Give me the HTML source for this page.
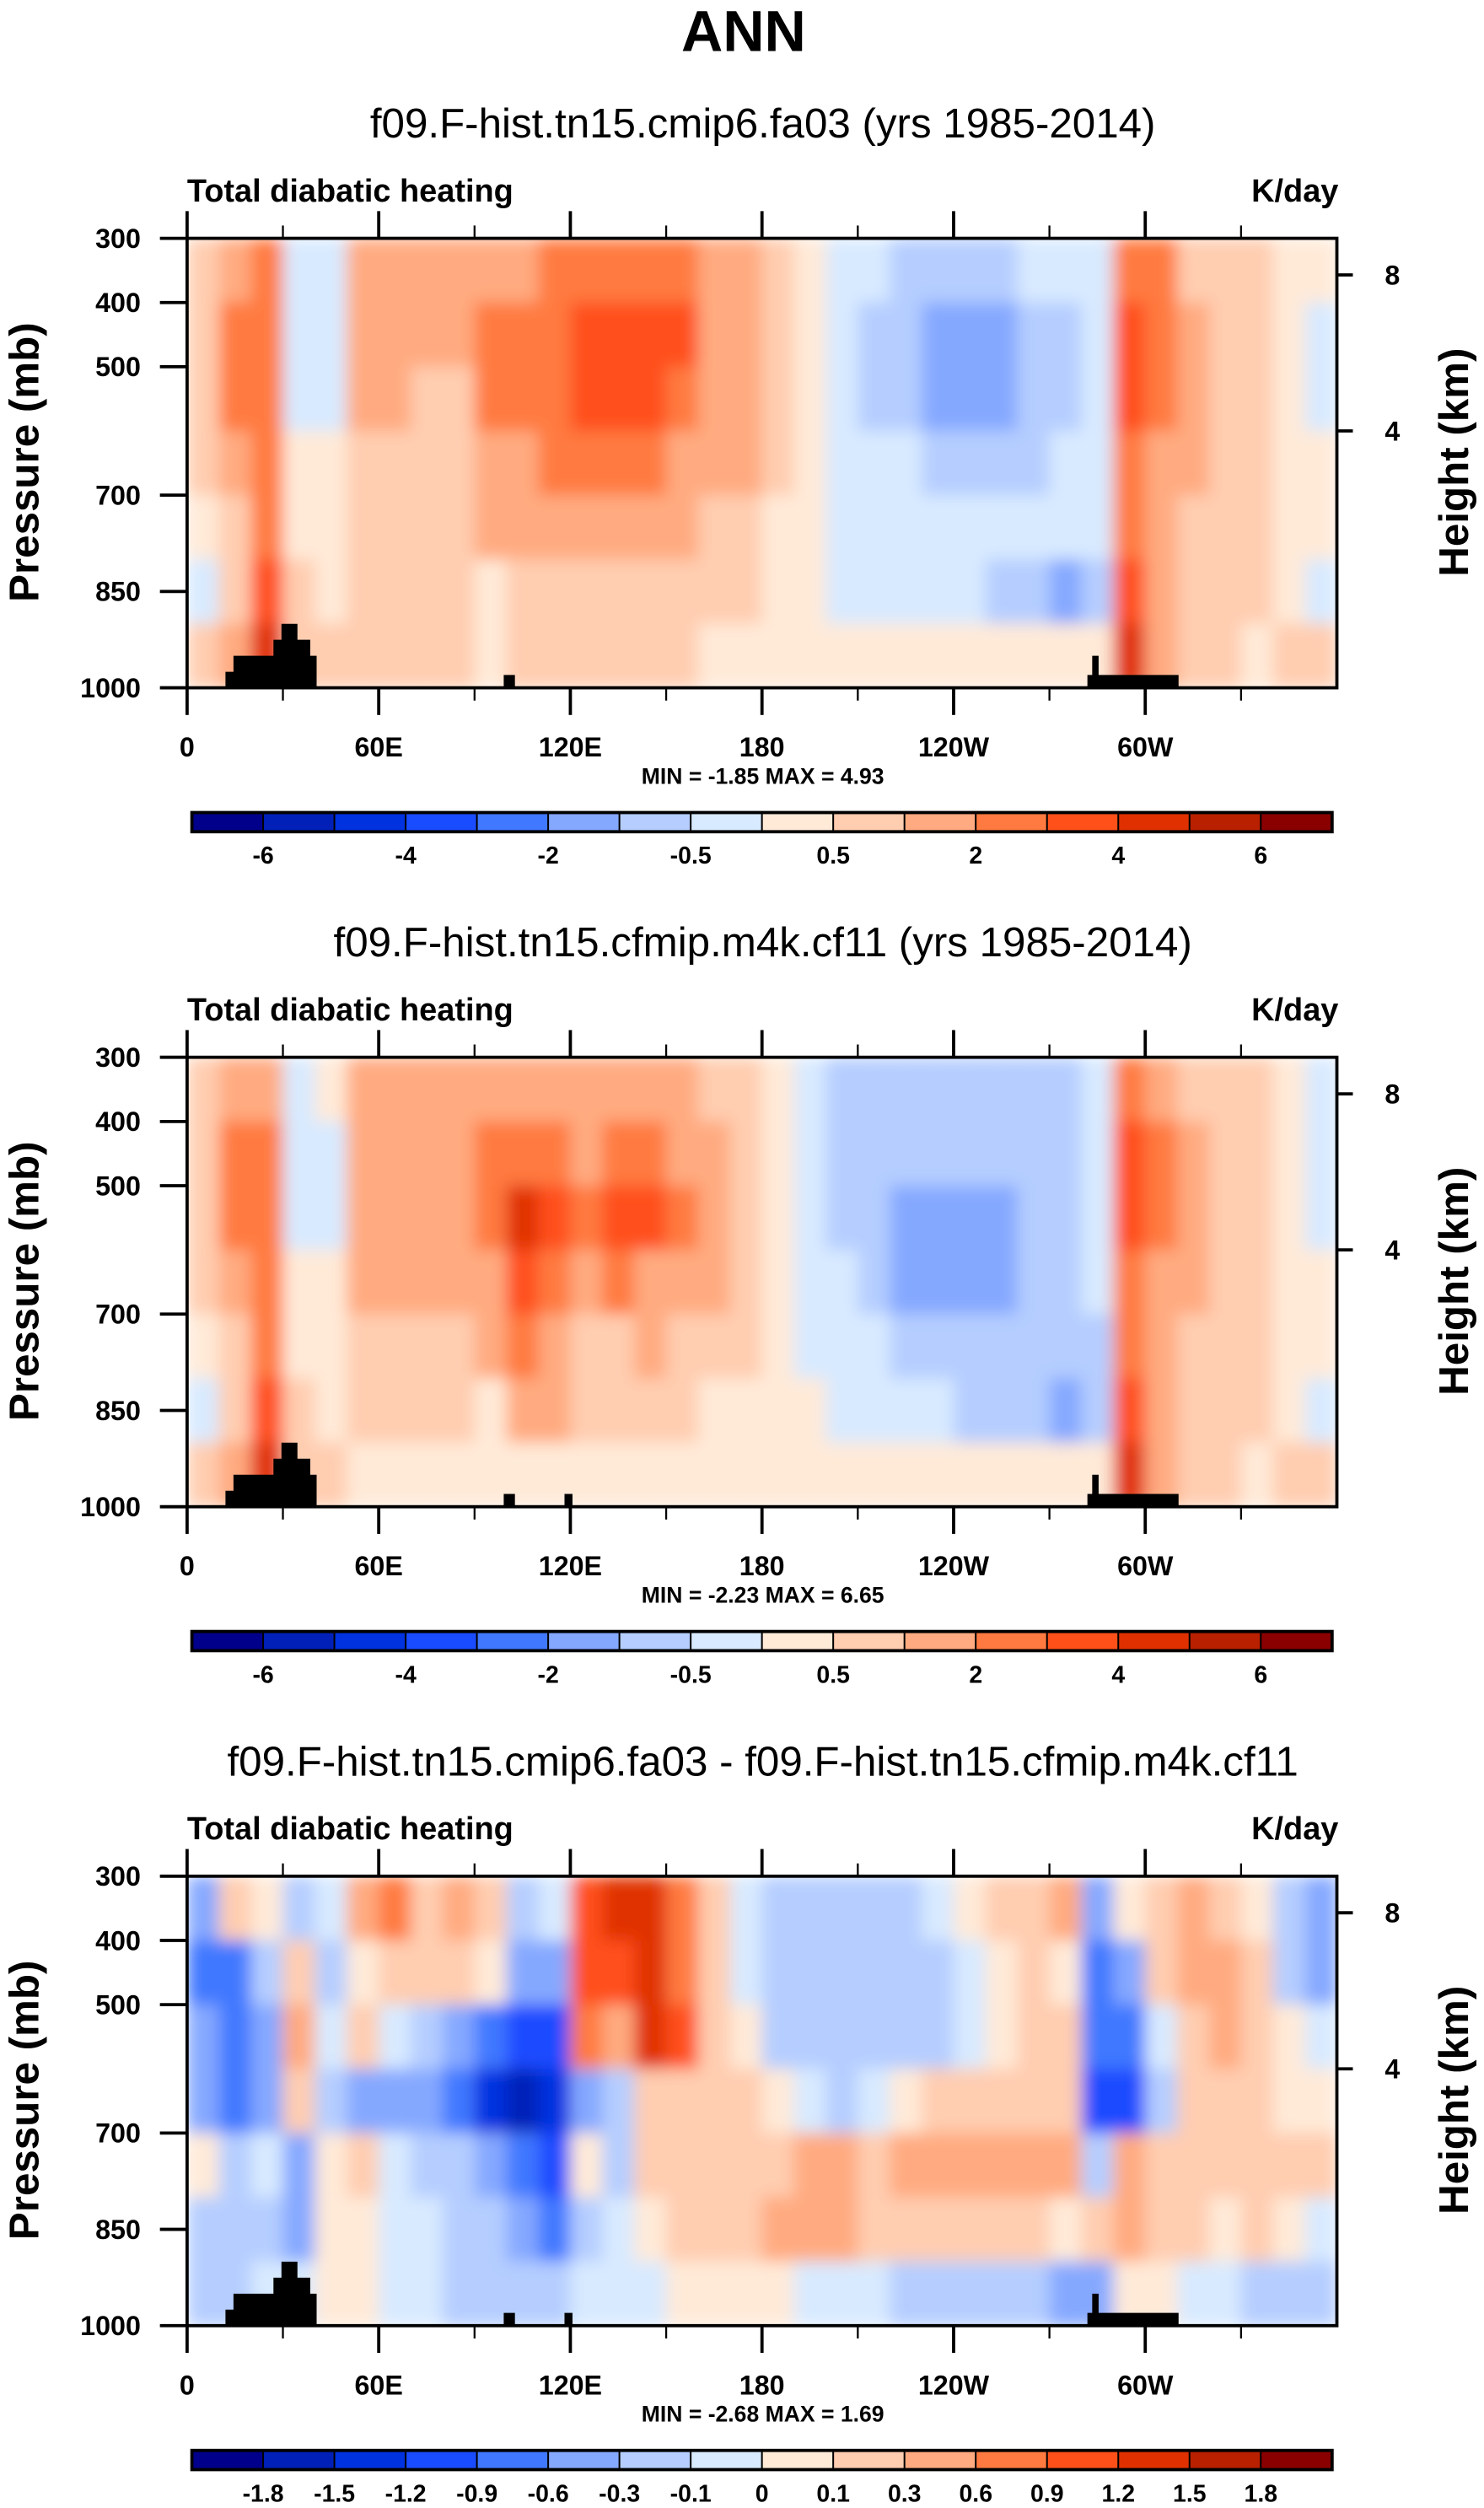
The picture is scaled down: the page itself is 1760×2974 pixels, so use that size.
<!DOCTYPE html>
<html><head><meta charset="utf-8"><style>
html,body{margin:0;padding:0;background:#fff}
svg{display:block}
text{font-family:"Liberation Sans",Arial,sans-serif;fill:#000}
</style></head><body>
<svg id="fig" xmlns="http://www.w3.org/2000/svg" width="1760" height="2974" viewBox="0 0 928 1568" preserveAspectRatio="none">
<defs><filter id="bl" x="0" y="0" width="1" height="1"><feGaussianBlur stdDeviation="5" edgeMode="duplicate"/></filter></defs>
<text x="465" y="32" font-size="36" font-weight="bold" text-anchor="middle">ANN</text>
</svg>
<script>
const colors=["#00008a","#0020b8","#0032e0","#1a4cff","#4078ff","#85a8ff","#b5ceff","#d8eaff","#ffead8","#ffcdb0","#ffaa80","#ff7a40","#ff501a","#e03000","#b82000","#8a0000"];
const levelsAbs=[-6,-5,-4,-3,-2,-1,-0.5,0,0.5,1,2,3,4,5,6];
const levelsDiff=[-1.8,-1.5,-1.2,-0.9,-0.6,-0.3,-0.1,0,0.1,0.3,0.6,0.9,1.2,1.5,1.8];
const labelsAbs=["-6","-4","-2","-0.5","0.5","2","4","6"];
const labelsDiff=["-1.8","-1.5","-1.2","-0.9","-0.6","-0.3","-0.1","0","0.1","0.3","0.6","0.9","1.2","1.5","1.8"];
const lonCenters=[5,15,25,35,45,55,65,75,85,95,105,115,125,135,145,155,165,175,185,195,205,215,225,235,245,255,265,275,285,295,305,315,325,335,345,355];
const presBands=[[300,400],[400,500],[500,600],[600,700],[700,800],[800,900],[900,1000]];
const xTickLons=[0,60,120,180,240,300];
const xTickLabels=["0","60E","120E","180","120W","60W"];
const pTicks=[300,400,500,700,850,1000];
const hTicks=[8,4];
const hTickPres=[357,600];
const field1=[
[0.7,1.5,2.5,-0.3,-0.2,1.5,1.5,1.2,1.2,1.5,2.0,2.5,2.5,2.5,2.5,2.5,2.0,1.5,1.0,0.3,-0.4,-0.5,-0.6,-0.7,-0.7,-0.6,-0.5,-0.5,-0.3,2.5,2.5,1.0,0.8,0.6,0.5,0.3],
[0.8,2.5,2.5,-0.5,-0.3,1.5,1.5,1.2,1.2,2.5,2.5,3.0,3.5,3.5,3.5,3.5,2.0,1.5,1.0,0.2,-0.5,-0.6,-0.8,-1.2,-1.5,-1.2,-0.8,-0.6,-0.4,3.5,3.0,1.5,1.0,0.6,0.3,-0.2],
[0.8,2.5,2.5,-0.3,-0.2,1.5,1.2,1.0,1.0,2.5,2.5,3.0,3.5,3.5,3.5,2.5,2.0,1.5,0.8,0.1,-0.5,-0.6,-0.8,-1.2,-1.5,-1.2,-0.8,-0.6,-0.3,3.5,2.5,1.5,1.0,0.6,0.3,-0.2],
[0.6,1.5,2.5,0.3,0.3,1.0,1.0,0.8,0.8,1.5,2.0,2.5,2.5,2.5,2.5,1.5,1.5,1.2,0.6,0.1,-0.3,-0.4,-0.5,-0.6,-0.7,-0.6,-0.6,-0.5,-0.3,2.5,2.0,1.2,0.8,0.6,0.3,0.2],
[0.4,1.0,2.5,0.5,0.5,0.8,0.8,0.6,0.6,1.2,1.5,1.2,1.2,1.2,1.2,1.2,1.0,1.0,0.5,0.1,-0.2,-0.3,-0.3,-0.4,-0.5,-0.5,-0.5,-0.5,-0.5,2.5,1.5,1.0,0.8,0.6,0.4,0.1],
[-0.3,0.8,3.5,0.7,0.5,0.6,0.6,0.6,0.6,0.3,1.0,0.8,0.8,0.8,0.8,0.8,0.6,0.6,0.4,0.1,-0.2,-0.2,-0.3,-0.3,-0.5,-0.7,-1.0,-1.5,-1.0,3.5,1.5,1.0,0.8,0.6,0.5,-0.5],
[1.0,1.5,4.5,1.0,0.6,0.6,0.6,0.6,0.6,0.2,0.6,0.6,0.6,0.6,0.6,0.6,0.5,0.4,0.3,0.2,0.1,0.1,0.1,0.1,0.1,0.1,0.1,0.2,0.5,4.5,1.5,0.8,0.6,0.5,0.6,0.6]];
const field2=[
[0.6,1.5,2.0,-0.3,0.2,1.2,1.2,1.2,1.2,1.2,2.0,2.0,1.5,1.5,1.5,1.2,1.0,0.8,0.5,-0.1,-0.6,-0.6,-0.6,-0.6,-0.6,-0.6,-0.6,-0.6,-0.3,2.5,2.0,1.0,0.8,0.6,0.3,-0.3],
[0.8,2.5,2.5,-0.5,-0.2,1.5,1.5,1.5,1.5,2.5,3.0,3.0,2.0,2.5,2.5,2.0,1.5,1.0,0.5,-0.1,-0.6,-0.8,-0.8,-1.0,-1.0,-0.8,-0.7,-0.6,-0.3,3.5,2.5,1.5,1.0,0.6,0.3,-0.5],
[0.8,2.5,2.5,-0.3,-0.1,1.5,1.5,1.5,1.5,2.5,4.5,3.5,2.5,3.5,3.5,2.5,1.5,1.0,0.5,-0.1,-0.6,-0.8,-1.5,-1.5,-1.5,-1.2,-0.8,-0.6,-0.3,3.5,2.5,1.5,1.0,0.6,0.3,-0.3],
[0.6,1.5,2.5,0.3,0.3,1.2,1.2,1.2,1.2,1.5,3.5,3.0,1.5,2.5,2.0,1.5,1.2,1.0,0.5,-0.1,-0.5,-0.8,-1.5,-1.5,-1.5,-1.2,-0.8,-0.6,-0.3,2.5,2.0,1.2,0.8,0.6,0.3,0.2],
[0.4,1.0,2.5,0.5,0.5,0.8,1.0,1.0,1.0,1.2,2.5,2.0,1.0,1.0,1.2,1.0,0.8,0.6,0.3,-0.1,-0.4,-0.5,-0.8,-1.0,-1.0,-1.0,-1.0,-0.8,-0.6,2.5,1.5,1.0,0.8,0.6,0.4,0.1],
[-0.3,0.8,3.5,0.7,0.5,0.6,0.6,0.6,0.6,0.5,1.2,1.2,0.6,0.6,0.6,0.6,0.5,0.4,0.3,0.2,-0.1,-0.3,-0.4,-0.5,-0.6,-0.8,-1.0,-1.5,-1.0,3.5,1.5,1.0,0.8,0.6,0.5,-0.5],
[1.0,1.5,4.5,1.0,0.6,0.4,0.4,0.4,0.4,0.2,0.4,0.4,0.4,0.4,0.4,0.4,0.4,0.3,0.3,0.2,0.2,0.1,0.1,0.1,0.1,0.1,0.1,0.2,0.5,4.5,1.5,0.8,0.6,0.5,0.6,0.6]];
const field3=[
[-0.6,0.3,0.1,-0.2,-0.1,0.6,0.9,0.3,0.6,0.3,-0.3,-0.1,1.2,1.5,1.5,0.9,0.3,-0.1,-0.3,-0.3,-0.3,-0.3,-0.3,-0.1,0.1,0.3,0.3,0.6,-0.6,0.1,0.3,0.6,0.3,0.1,-0.3,-0.6],
[-0.9,-0.9,-0.3,0.3,-0.3,0.1,0.3,0.3,0.3,0.1,-0.6,-0.6,1.2,1.2,1.5,0.9,0.3,-0.1,-0.3,-0.3,-0.3,-0.3,-0.3,-0.3,-0.1,0.1,0.3,0.1,-0.9,-0.6,0.3,0.6,0.6,0.3,-0.3,-0.6],
[-0.6,-0.9,-0.6,0.6,-0.1,0.3,-0.1,-0.3,-0.6,-0.9,-1.2,-1.2,0.9,0.6,1.5,1.2,0.3,0.1,-0.3,-0.3,-0.3,-0.3,-0.3,-0.3,-0.1,0.1,0.3,0.3,-0.9,-0.9,-0.1,0.3,0.6,0.3,0.1,-0.1],
[-0.6,-0.9,-0.6,0.3,-0.3,-0.6,-0.6,-0.6,-0.9,-1.5,-1.8,-1.5,-0.6,-0.3,0.3,0.3,0.3,0.3,0.1,-0.1,-0.3,-0.1,0.1,0.3,0.3,0.3,0.3,0.3,-1.2,-1.2,-0.3,0.3,0.3,0.3,0.1,0.1],
[0.1,-0.3,-0.1,-0.6,0.1,0.3,-0.1,-0.3,-0.3,-0.6,-0.9,-1.2,0.1,-0.3,0.3,0.3,0.3,0.3,0.3,0.6,0.6,0.3,0.6,0.6,0.6,0.6,0.6,0.6,-0.3,0.6,0.3,0.3,0.3,0.3,0.3,0.3],
[-0.3,-0.3,-0.3,-0.6,0.1,0.1,-0.1,-0.1,-0.3,-0.3,-0.6,-0.9,-0.3,-0.1,0.1,0.3,0.3,0.3,0.6,0.6,0.6,0.3,0.3,0.3,0.3,0.3,0.3,0.1,0.3,0.6,0.3,0.3,0.1,0.3,0.1,-0.1],
[-0.3,-0.3,-0.1,-0.1,0.1,0.1,-0.1,-0.1,-0.3,-0.3,-0.3,-0.3,-0.1,-0.1,-0.1,0.1,0.1,0.1,0.1,-0.1,-0.1,-0.1,-0.3,-0.3,-0.3,-0.3,-0.3,-0.6,-0.6,0.1,0.1,-0.1,-0.1,-0.3,-0.3,-0.3]];
const titles=["f09.F-hist.tn15.cmip6.fa03 (yrs 1985-2014)","f09.F-hist.tn15.cfmip.m4k.cf11 (yrs 1985-2014)","f09.F-hist.tn15.cmip6.fa03 - f09.F-hist.tn15.cfmip.m4k.cf11"];
const minmax=["MIN =  -1.85  MAX =  4.93","MIN =  -2.23  MAX =  6.65","MIN =  -2.68  MAX =  1.69"];

const NS="http://www.w3.org/2000/svg";
const svg=document.getElementById('fig');
const L=117,W=719,H=281;
function mk(tag,attrs,parent){const e=document.createElementNS(NS,tag);for(const k in attrs)e.setAttribute(k,attrs[k]);(parent||svg).appendChild(e);return e;}
function colorFor(v,lv){let i=0;
  if(v>0){while(i<lv.length&&v>lv[i])i++;}
  else{while(i<lv.length&&v>=lv[i])i++;}
  return colors[i];}

function panel(idx,top,field,lv,labels,showLand100E2){
  const xs=lon=>L+lon/360*W;
  const ys=p=>top+(p-300)/700*H;
  const g=mk('g',{});
  
  
  let t=mk('text',{x:477,y:top-63,'font-size':26,'text-anchor':'middle'},g);t.textContent=titles[idx];
  
  
  t=mk('text',{x:117,y:top-23,'font-size':20,'font-weight':'bold'},g);t.textContent='Total diabatic heating';
  
  
  t=mk('text',{x:837,y:top-23,'font-size':20,'font-weight':'bold','text-anchor':'end'},g);t.textContent='K/day';
  
  
  const cg=mk('g',{filter:'url(#bl)'},g);
  
  
  mk('rect',{x:L,y:top,width:W,height:H,fill:'#ffead8'},cg);
  field.forEach((row,r)=>{row.forEach((v,c)=>{
    const x0=xs(lonCenters[c]-5),x1=xs(lonCenters[c]+5),y0=ys(presBands[r][0]),y1=ys(presBands[r][1]);
    const cell=mk('rect',{x:x0,y:y0,width:x1-x0+0.6,height:y1-y0+0.6,fill:colorFor(v,lv)},cg);
    
    
  });});
  const b=top+H;
  const land=mk('path',{fill:'#000',d:`M141 ${b}V${b-10}H146V${b-20}H171V${b-30}H176V${b-40}H186V${b-30}H194V${b-20}H198V${b}Z M315 ${b}V${b-8}H322V${b}Z M680 ${b}V${b-8}H683V${b-20}H687V${b-8}H737V${b}Z`+(showLand100E2?` M353 ${b}V${b-8}H358V${b}Z`:'')},g);
  
  
  const fr=mk('rect',{x:L,y:top,width:W,height:H,fill:'none',stroke:'#000','stroke-width':2},g);
  
  
  for(let lon=0;lon<=330;lon+=30){
    const major=lon%60===0,len=major?17:8;
    mk('line',{x1:xs(lon),x2:xs(lon),y1:b,y2:b+len,stroke:'#000','stroke-width':major?2:1.2},g);
    mk('line',{x1:xs(lon),x2:xs(lon),y1:top,y2:top-len,stroke:'#000','stroke-width':major?2:1.2},g);
  }
  xTickLons.forEach((lon,i)=>{const tx=mk('text',{x:xs(lon),y:b+43,'font-size':17,'font-weight':'bold','text-anchor':'middle'},g);tx.textContent=xTickLabels[i];
    
    });
  pTicks.forEach(p=>{mk('line',{x1:L-17,x2:L,y1:ys(p),y2:ys(p),stroke:'#000','stroke-width':2},g);
    const tx=mk('text',{x:88,y:ys(p)+6,'font-size':17,'font-weight':'bold','text-anchor':'end'},g);tx.textContent=p;
    
    });
  hTicks.forEach((h,i)=>{const y=ys(hTickPres[i]);mk('line',{x1:L+W,x2:L+W+10,y1:y,y2:y,stroke:'#000','stroke-width':2},g);
    const tx=mk('text',{x:866,y:y+6,'font-size':17,'font-weight':'bold'},g);tx.textContent=h;
    
    });
  t=mk('text',{transform:`translate(24 ${top+140}) rotate(-90)`,'font-size':26,'font-weight':'bold','text-anchor':'middle'},g);t.textContent='Pressure (mb)';
  
  
  t=mk('text',{transform:`translate(918 ${top+140}) rotate(-90)`,'font-size':26,'font-weight':'bold','text-anchor':'middle'},g);t.textContent='Height (km)';
  
  
  t=mk('text',{x:477,y:b+60,'font-size':14,'font-weight':'bold','text-anchor':'middle','xml:space':'preserve'},g);t.textContent=minmax[idx];
  
  
  const cbTop=b+78,cbL=120,cbW=713,bw=cbW/16;
  const cb=mk('g',{},g);
  
  
  colors.forEach((c,i)=>{const r=mk('rect',{x:cbL+i*bw,y:cbTop,width:bw,height:12,fill:c,stroke:'#000','stroke-width':1},cb);
    
    });
  mk('rect',{x:cbL,y:cbTop,width:cbW,height:12,fill:'none',stroke:'#000','stroke-width':2},cb);
  const step=labels.length===8?2:1;
  labels.forEach((lab,i)=>{const k=1+i*step;const tx=mk('text',{x:cbL+k*bw,y:cbTop+32,'font-size':15,'font-weight':'bold','text-anchor':'middle'},cb);tx.textContent=lab;
    
    });
}
panel(0,149,field1,levelsAbs,labelsAbs,false);
panel(1,661,field2,levelsAbs,labelsAbs,true);
panel(2,1173,field3,levelsDiff,labelsDiff,true);
</script>
</body></html>
